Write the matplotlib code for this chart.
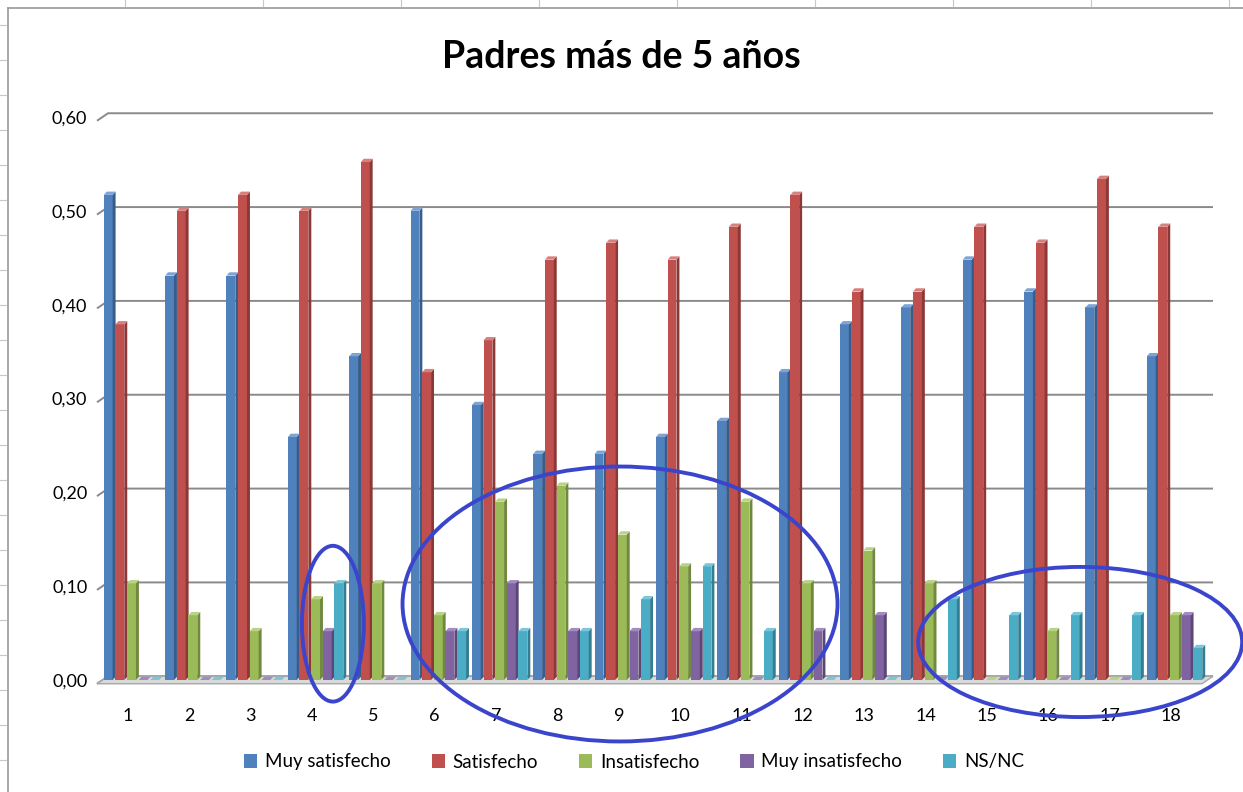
import matplotlib.pyplot as plt
from matplotlib.patches import Polygon, Ellipse, Patch
from matplotlib.lines import Line2D

plt.rcParams['font.family'] = ['Lato', 'DejaVu Sans']

grupos = [str(i) for i in range(1, 19)]
series = ["Muy satisfecho", "Satisfecho", "Insatisfecho", "Muy insatisfecho", "NS/NC"]

muy_satisfecho = [0.517, 0.431, 0.431, 0.259, 0.345, 0.500, 0.293, 0.241, 0.241,
                  0.259, 0.276, 0.328, 0.379, 0.397, 0.448, 0.414, 0.397, 0.345]
satisfecho = [0.379, 0.500, 0.517, 0.500, 0.552, 0.328, 0.362, 0.448, 0.466,
              0.448, 0.483, 0.517, 0.414, 0.414, 0.483, 0.466, 0.534, 0.483]
insatisfecho = [0.103, 0.069, 0.052, 0.086, 0.103, 0.069, 0.190, 0.207, 0.155,
                0.121, 0.190, 0.103, 0.138, 0.103, 0.000, 0.052, 0.000, 0.069]
muy_insatisfecho = [0.000, 0.000, 0.000, 0.052, 0.000, 0.052, 0.103, 0.052, 0.052,
                    0.052, 0.000, 0.052, 0.069, 0.000, 0.000, 0.000, 0.000, 0.069]
ns_nc = [0.000, 0.000, 0.000, 0.103, 0.000, 0.052, 0.052, 0.052, 0.086,
         0.121, 0.052, 0.000, 0.000, 0.086, 0.069, 0.069, 0.069, 0.034]

yticks = [0.0, 0.1, 0.2, 0.3, 0.4, 0.5, 0.6]
ytick_labels = ["0,00", "0,10", "0,20", "0,30", "0,40", "0,50", "0,60"]

valores = [muy_satisfecho, satisfecho, insatisfecho, muy_insatisfecho, ns_nc]
colores = ["#4F81BD", "#C0504D", "#9BBB59", "#8064A2", "#4BACC6"]
lados = ["#385D8A", "#8C3836", "#71893F", "#5C4776", "#357D91"]
topes = ["#7FA3D4", "#D8807E", "#B9D386", "#A18BC0", "#7CC6DA"]

fig = plt.figure(figsize=(12.43, 7.92), dpi=100)
ax = fig.add_axes([97 / 1243, 112 / 792, 1116 / 1243, 563 / 792])

x = list(range(1, 19))
paso = 0.19
frente = 0.145
d = 0.048
dz = 0.0035
desp = 0.08

# gridlines with a small 3D kink on the left
xmin, xmax = 0.495, 18.685
for yv in yticks:
    ax.plot([xmin, xmin + 0.18, xmax], [yv - 0.004, yv + 0.004, yv + 0.004],
            color="#8A8A8A", lw=1.4, zorder=1, solid_capstyle="butt", clip_on=False)
# floor
ax.add_patch(Polygon([(xmin, -0.004), (xmax - 0.18, -0.004), (xmax, 0.004), (xmin + 0.18, 0.004)],
                     closed=True, facecolor="#D9D9D9", edgecolor="#A6A6A6", lw=1, zorder=1,
                     clip_on=False))

for s, vals in enumerate(valores):
    for i, v in zip(x, vals):
        x0 = i + desp + (s - 2.5) * paso
        ax.bar(x0, v, width=frente, align="edge", color=colores[s], edgecolor="none", zorder=3)
        ax.add_patch(Polygon([(x0 + frente, 0), (x0 + frente + d, dz), (x0 + frente + d, v + dz),
                              (x0 + frente, v)], closed=True, facecolor=lados[s],
                             edgecolor="none", zorder=3))
        ax.add_patch(Polygon([(x0, v), (x0 + frente, v), (x0 + frente + d, v + dz), (x0 + d, v + dz)],
                             closed=True, facecolor=topes[s], edgecolor="none", zorder=3))

ax.set_xlim(xmin, xmax)
ax.set_ylim(0, 0.6)
ax.set_xticks(x)
ax.set_xticklabels(grupos, fontsize=13)
ax.set_yticks(yticks)
ax.set_yticklabels(ytick_labels, fontsize=13)
ax.tick_params(length=0, pad=20)
ax.tick_params(axis="y", pad=7)
for sp in ax.spines.values():
    sp.set_visible(False)

# hand-drawn ellipses
elipses = [(4.34, 0.060, 1.01, 0.166), (9.02, 0.081, 7.09, 0.293), (16.52, 0.0405, 5.28, 0.160)]
for cx, cy, w, h in elipses:
    ax.add_patch(Ellipse((cx, cy), w, h, fill=False, edgecolor="#3A45CC", lw=2.8,
                         zorder=5, clip_on=False))

fig.text(0.5, 1 - 57 / 792, "Padres más de 5 años", ha="center", va="center",
         fontsize=27, fontweight="bold")

handles = [Patch(facecolor=c, edgecolor="none") for c in colores]
fig.legend(handles, series, loc="center", bbox_to_anchor=(634 / 1243, 1 - 762 / 792), ncol=5,
           frameon=False, fontsize=13.5, handlelength=0.7, handleheight=0.7,
           handletextpad=0.4, columnspacing=2.2)

# spreadsheet frame
fig.add_artist(Line2D([8 / 1243, 8 / 1243], [0, 1 - 8 / 792], color="#9A9A9A", lw=1.2))
fig.add_artist(Line2D([8 / 1243, 1], [1 - 8 / 792, 1 - 8 / 792], color="#9A9A9A", lw=1.2))
for px in range(125, 1243, 138):
    fig.add_artist(Line2D([px / 1243, px / 1243], [1, 1 - 6 / 792], color="#C8C8C8", lw=0.8))
for py in range(25, 792, 35):
    fig.add_artist(Line2D([0, 6 / 1243], [1 - py / 792, 1 - py / 792], color="#C8C8C8", lw=0.8))

fig.savefig("out.png", dpi=100)
